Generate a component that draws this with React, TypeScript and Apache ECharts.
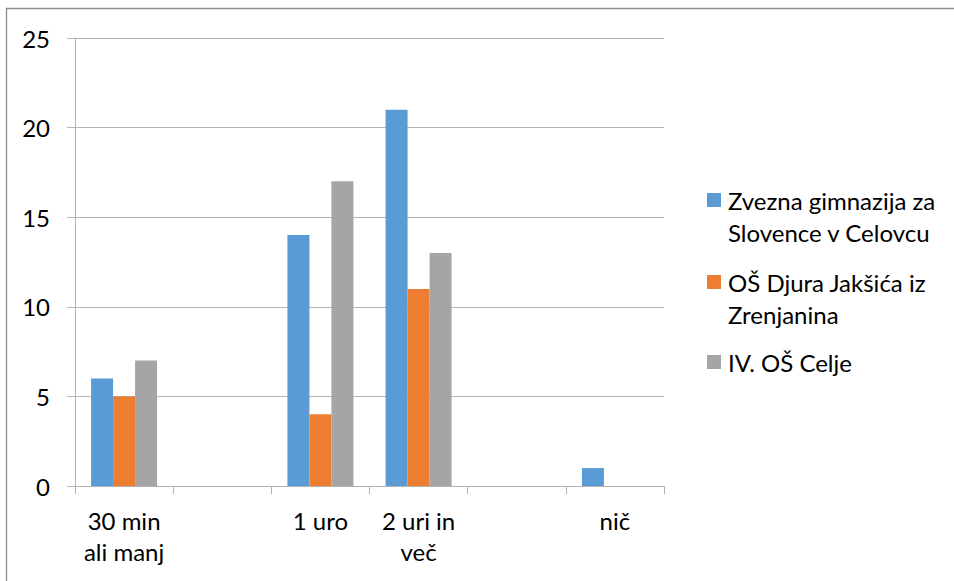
import React, { useEffect, useRef } from "react";
import * as echarts from "echarts";

const categories = ["30 min\nali manj", "", "1 uro", "2 uri in\nveč", "", "nič"];
const seriesNames = ["Zvezna gimnazija za Slovence v Celovcu", "OŠ Djura Jakšića iz Zrenjanina", "IV. OŠ Celje"];
const legendLines = [["Zvezna gimnazija za", "Slovence v Celovcu"], ["OŠ Djura Jakšića iz", "Zrenjanina"], ["IV. OŠ Celje"]];
const seriesA = [6, null, 14, 21, null, 1];
const seriesB = [5, null, 4, 11, null, 0];
const seriesC = [7, null, 17, 13, null, 0];
const colors = ["#5b9bd5", "#ed7d31", "#a5a5a5"];
const yTicks = { min: 0, max: 25, interval: 5 };

const FONT = "Lato";

export default function App() {
  const ref = useRef<HTMLDivElement>(null);
  useEffect(() => {
    if (!ref.current) return;
    const chart = echarts.init(ref.current, null, { renderer: "svg" });
    const data = [seriesA, seriesB, seriesC];
    const legendGraphics: any[] = [];
    const itemTops = [184, 266, 346];
    legendLines.forEach((lines, i) => {
      legendGraphics.push({
        type: "rect",
        shape: { x: 707, y: itemTops[i] + 9, width: 14, height: 14 },
        style: { fill: colors[i] },
      });
      legendGraphics.push({
        type: "text",
        x: 728,
        y: itemTops[i],
        style: {
          text: lines.join("\n"),
          font: `24px ${FONT}`,
          lineHeight: 32,
          fill: "#000",
          verticalAlign: "top",
        },
      });
    });
    chart.setOption({
      animation: false,
      textStyle: { fontFamily: FONT },
      grid: { left: 75, right: 290, top: 38, bottom: 95, containLabel: false },
      xAxis: {
        type: "category",
        data: categories,
        axisLine: { show: true, lineStyle: { color: "#b4b4b4", width: 1 } },
        axisTick: { show: true, length: 8, lineStyle: { color: "#b4b4b4" } },
        axisLabel: {
          color: "#000",
          fontSize: 24,
          fontFamily: FONT,
          lineHeight: 31,
          margin: 19,
          interval: 0,
          verticalAlign: "top",
        },
      },
      yAxis: {
        type: "value",
        min: yTicks.min,
        max: yTicks.max,
        interval: yTicks.interval,
        axisLine: { show: true, lineStyle: { color: "#b4b4b4", width: 1 } },
        axisTick: { show: true, length: 8, lineStyle: { color: "#b4b4b4" } },
        splitLine: { show: true, lineStyle: { color: "#b4b4b4", width: 1 } },
        axisLabel: { color: "#000", fontSize: 24, fontFamily: FONT, margin: 25 },
      },
      series: seriesNames.map((name, i) => ({
        name,
        type: "bar",
        data: data[i],
        barWidth: 22,
        barGap: "0%",
        itemStyle: { color: colors[i] },
      })),
      graphic: [
        {
          type: "rect",
          shape: { x: 6.5, y: 8.5, width: 1200, height: 1200 },
          style: { fill: "none", stroke: "#8c8c8c", lineWidth: 1.3 },
          silent: true,
        },
        ...legendGraphics,
      ],
    });
    return () => chart.dispose();
  }, []);
  return (
    <div
      ref={ref}
      style={{ position: "fixed", left: 0, top: 0, width: 954, height: 581, background: "#fff" }}
    />
  );
}
